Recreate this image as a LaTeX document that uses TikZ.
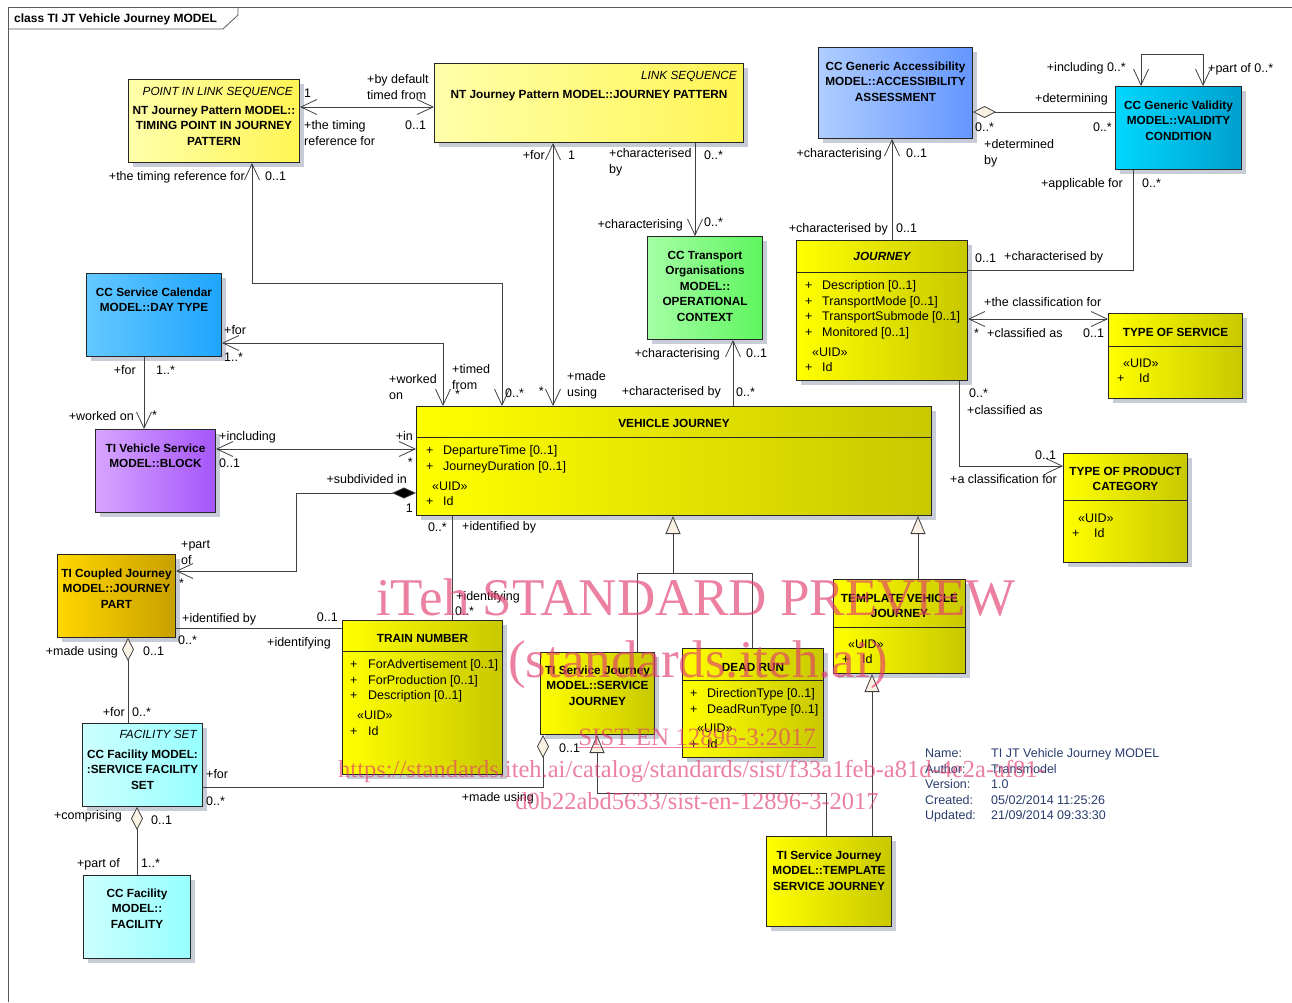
\documentclass[tikz,border=0pt]{standalone}
\usepackage{fontspec}
\setmainfont{Liberation Sans}
\newfontfamily\wmfont{Liberation Serif}
\usepackage{tikz}
\usetikzlibrary{arrows.meta, positioning, shadows}
\definecolor{paleyelL}{RGB}{255,255,170}
\definecolor{paleyelR}{RGB}{255,245,85}
\definecolor{yelL}{RGB}{255,255,0}
\definecolor{yelR}{RGB}{200,200,0}
\definecolor{ocgreenL}{RGB}{165,255,165}
\definecolor{ocgreenR}{RGB}{95,245,95}
\definecolor{accblueL}{RGB}{175,205,255}
\definecolor{accblueR}{RGB}{100,150,255}
\definecolor{vcyanL}{RGB}{0,215,255}
\definecolor{vcyanR}{RGB}{0,160,205}
\definecolor{daybueL}{RGB}{100,200,255}
\definecolor{daybueR}{RGB}{30,165,255}
\definecolor{purpL}{RGB}{215,165,255}
\definecolor{purpR}{RGB}{165,85,250}
\definecolor{goldL}{RGB}{255,215,0}
\definecolor{goldR}{RGB}{200,160,0}
\definecolor{icecyanL}{RGB}{205,255,255}
\definecolor{icecyanR}{RGB}{150,255,255}
\definecolor{shadowgray}{RGB}{200,204,214}
\definecolor{dmfill}{RGB}{250,240,228}
\definecolor{metablue}{RGB}{40,60,110}
\definecolor{wmpink}{RGB}{225,60,110}

\begin{document}
\begin{tikzpicture}[
    x=1pt, y=-1pt,
    every node/.style={font=\fontsize{12.5}{15.5}\selectfont},
    cls/.style={draw=black!85, line width=1pt, anchor=north west, inner sep=0pt,
        drop shadow={shadow xshift=4pt, shadow yshift=-4pt, fill=shadowgray, opacity=1}},
    cbox/.style={cls, left color=#1L, right color=#1R},
    cname/.style={anchor=north, align=center, inner sep=0pt, font=\fontsize{11.8}{15.5}\selectfont\bfseries},
    stereo/.style={anchor=east, inner sep=0pt, text height=8.5pt, text depth=0pt, font=\fontsize{11.8}{15.5}\selectfont\itshape},
    attrs/.style={anchor=north west, align=left, inner sep=0pt},
    lbl/.style={inner sep=0pt, text height=9pt, text depth=0pt},
    lbltwo/.style={anchor=north west, align=left, inner sep=0pt},
    sep/.style={draw=black!85, line width=1pt},
    conn/.style={draw=black!75, line width=0.8pt},
    navto/.style={conn, -{Straight Barb[length=16pt, width=15pt]}},
    navboth/.style={conn, {Straight Barb[length=16pt, width=15pt]}-{Straight Barb[length=16pt, width=15pt]}},
    aggr/.style={conn, {Diamond[length=23pt, width=12pt, fill=dmfill]}-},
    compo/.style={conn, {Diamond[length=24pt, width=11pt, fill=black]}-{Straight Barb[length=16pt, width=15pt]}},
    gen/.style={conn, -{Triangle[length=18pt, width=15pt, fill=dmfill]}},
    frame/.style={draw=black!65, line width=0.8pt},
    wm/.style={inner sep=0pt, text=wmpink, text opacity=0.65}
]
\useasboundingbox (0,0) rectangle (1292,1002);

% Frame
\draw[frame] (8,1002) -- (8,7) -- (1292,7);
\draw[frame] (8,29) -- (223,29) -- (238,15) -- (238,7);
\node[anchor=west, inner sep=0pt, text height=8.5pt, text depth=0pt, font=\fontsize{12}{15}\selectfont\bfseries] (title) at (14,18) {class TI JT Vehicle Journey MODEL};

% Journey pattern classes
\node[cbox=paleyel, minimum width=171pt, minimum height=83pt] (tp) at (128,79) {};
\node[stereo] (tp-st) at (293,91) {POINT IN LINK SEQUENCE};
\node[cname, below=26.7pt of tp.north] (tp-nm) {NT Journey Pattern MODEL::\\TIMING POINT IN JOURNEY\\PATTERN};

\node[cbox=paleyel, minimum width=309pt, minimum height=79pt] (jp) at (434,63) {};
\node[stereo] (jp-st) at (737,75) {LINK SEQUENCE};
\node[cname, below=26.7pt of jp.north] (jp-nm) {NT Journey Pattern MODEL::JOURNEY PATTERN};

% Accessibility and validity
\node[cbox=accblue, minimum width=154pt, minimum height=91pt] (aa) at (818,47) {};
\node[cname, below=14.7pt of aa.north] (aa-nm) {CC Generic Accessibility\\MODEL::ACCESSIBILITY\\ASSESSMENT};

\node[cbox=vcyan, minimum width=126pt, minimum height=83pt] (vc) at (1115,86) {};
\node[cname, below=14.7pt of vc.north] (vc-nm) {CC Generic Validity\\MODEL::VALIDITY\\CONDITION};

% Operational context
\node[cbox=ocgreen, minimum width=115pt, minimum height=103pt] (oc) at (647,236) {};
\node[cname, below=14.7pt of oc.north] (oc-nm) {CC Transport\\Organisations\\MODEL::\\OPERATIONAL\\CONTEXT};

% Journey
\node[cbox=yel, minimum width=171pt, minimum height=140pt] (j) at (796,240) {};
\node[cname, font=\fontsize{11.8}{15.5}\selectfont\bfseries\itshape, below=11.7pt of j.north] (j-nm) {JOURNEY};
\draw[sep] (j.west |- 0,272) -- (j.east |- 0,272);
\node[attrs] (j-at) at (805,280.4) {\makebox[17pt][l]{+}Description [0..1]\\ \makebox[17pt][l]{+}TransportMode [0..1]\\ \makebox[17pt][l]{+}TransportSubmode [0..1]\\ \makebox[17pt][l]{+}Monitored [0..1]\\[4.5pt] \hspace*{7pt}«UID»\\ \makebox[17pt][l]{+}Id};

% Classifications
\node[cbox=yel, minimum width=134pt, minimum height=85pt] (ts) at (1108,313) {};
\node[cname, below=14.7pt of ts.north] (ts-nm) {TYPE OF SERVICE};
\draw[sep] (ts.west |- 0,346) -- (ts.east |- 0,346);
\node[attrs] (ts-at) at (1117,358.5) {\hspace*{6pt}«UID»\\ \makebox[22pt][l]{+}Id};

\node[cbox=yel, minimum width=124pt, minimum height=109pt] (tpc) at (1063,453) {};
\node[cname, below=13.7pt of tpc.north] (tpc-nm) {TYPE OF PRODUCT\\CATEGORY};
\draw[sep] (tpc.west |- 0,500) -- (tpc.east |- 0,500);
\node[attrs] (tpc-at) at (1072,513.5) {\hspace*{6pt}«UID»\\ \makebox[22pt][l]{+}Id};

% Day type and block
\node[cbox=daybue, minimum width=135pt, minimum height=83pt] (dt) at (86,273) {};
\node[cname, below=14.7pt of dt.north] (dt-nm) {CC Service Calendar\\MODEL::DAY TYPE};

\node[cbox=purp, minimum width=120pt, minimum height=83pt] (bl) at (95,429) {};
\node[cname, below=14.7pt of bl.north] (bl-nm) {TI Vehicle Service\\MODEL::BLOCK};

% Vehicle journey
\node[cbox=yel, minimum width=515pt, minimum height=109pt] (vj) at (416,406) {};
\node[cname, below=12.7pt of vj.north] (vj-nm) {VEHICLE JOURNEY};
\draw[sep] (vj.west |- 0,437) -- (vj.east |- 0,437);
\node[attrs] (vj-at) at (426,445.4) {\makebox[17pt][l]{+}DepartureTime [0..1]\\ \makebox[17pt][l]{+}JourneyDuration [0..1]\\[4.5pt] \hspace*{6pt}«UID»\\ \makebox[17pt][l]{+}Id};

% Journey part, train number, facilities
\node[cbox=gold, minimum width=118pt, minimum height=83pt] (jpt) at (57,554) {};
\node[cname, below=14.4pt of jpt.north] (jpt-nm) {TI Coupled Journey\\MODEL::JOURNEY\\PART};

\node[cbox=yel, minimum width=160pt, minimum height=154pt] (tn) at (342,620) {};
\node[cname, below=13.7pt of tn.north] (tn-nm) {TRAIN NUMBER};
\draw[sep] (tn.west |- 0,651) -- (tn.east |- 0,651);
\node[attrs] (tn-at) at (350,659.4) {\makebox[18pt][l]{+}ForAdvertisement [0..1]\\ \makebox[18pt][l]{+}ForProduction [0..1]\\ \makebox[18pt][l]{+}Description [0..1]\\[4.5pt] \hspace*{7pt}«UID»\\ \makebox[18pt][l]{+}Id};

\node[cbox=icecyan, minimum width=120pt, minimum height=83pt] (fs) at (82,723) {};
\node[stereo] (fs-st) at (197,734) {FACILITY SET};
\node[cname, below=26.7pt of fs.north] (fs-nm) {CC Facility MODEL:\\:SERVICE FACILITY\\SET};

\node[cbox=icecyan, minimum width=107pt, minimum height=83pt] (fa) at (83,875) {};
\node[cname, below=13.7pt of fa.north] (fa-nm) {CC Facility\\MODEL::\\FACILITY};

% Specialisations
\node[cbox=yel, minimum width=114pt, minimum height=82pt] (sj) at (540,652) {};
\node[cname, below=13.7pt of sj.north] (sj-nm) {TI Service Journey\\MODEL::SERVICE\\JOURNEY};

\node[cbox=yel, minimum width=141pt, minimum height=109pt] (dr) at (682,648) {};
\node[cname, below=14.7pt of dr.north] (dr-nm) {DEAD RUN};
\draw[sep] (dr.west |- 0,680) -- (dr.east |- 0,680);
\node[attrs] (dr-at) at (690,688.4) {\makebox[17pt][l]{+}DirectionType [0..1]\\ \makebox[17pt][l]{+}DeadRunType [0..1]\\[4pt] \hspace*{7pt}«UID»\\ \makebox[17pt][l]{+}Id};

\node[cbox=yel, minimum width=132pt, minimum height=94pt] (tvj) at (833,579) {};
\node[cname, below=14.7pt of tvj.north] (tvj-nm) {TEMPLATE VEHICLE\\JOURNEY};
\draw[sep] (tvj.west |- 0,627) -- (tvj.east |- 0,627);
\node[attrs] (tvj-at) at (842,639.5) {\hspace*{6pt}«UID»\\ \makebox[20pt][l]{+}Id};

\node[cbox=yel, minimum width=125pt, minimum height=90pt] (tsj) at (766,836) {};
\node[cname, below=14.7pt of tsj.north] (tsj-nm) {TI Service Journey\\MODEL::TEMPLATE\\SERVICE JOURNEY};

% Associations
\draw[navboth] (tp.east |- 0,107) -- (jp.west |- 0,107);
\draw[navboth] (tp.south -| 252,0) |- (502,283) -- (vj.north -| 502,0);
\draw[navboth] (jp.south -| 553,0) -- (vj.north -| 553,0);
\draw[navto] (jp.south -| 695,0) -- (oc.north -| 695,0);
\draw[navto] (vj.north -| 733,0) -- (oc.south -| 733,0);
\draw[navto] (j.north -| 892,0) -- (aa.south -| 892,0);
\draw[aggr] (aa.east |- 0,112) -- (vc.west |- 0,112);
\draw[navboth] (vc.north -| 1141,0) |- (1203,54) -- (vc.north -| 1203,0);
\draw[conn] (vc.south -| 1133,0) |- (j.east |- 0,270);
\draw[navboth] (j.east |- 0,319) -- (ts.west |- 0,319);
\draw[navto] (j.south -| 959,0) |- (tpc.west |- 0,466);
\draw[navboth] (dt.east |- 0,343) -| (vj.north -| 443,0);
\draw[navto] (dt.south -| 144,0) -- (bl.north -| 144,0);
\draw[navboth] (bl.east |- 0,449) -- (vj.west |- 0,449);
\draw[compo] (vj.west |- 0,493) -| (296,571) -- (jpt.east |- 0,571);
\draw[conn] (jpt.east |- 0,628) -- (tn.west |- 0,628);
\draw[conn] (vj.south -| 452,0) -- (tn.north -| 452,0);
\draw[aggr] (jpt.south -| 128,0) -- (fs.north -| 128,0);
\draw[aggr] (fs.south -| 137,0) -- (fa.north -| 137,0);
\draw[aggr] (sj.south -| 543,0) |- (fs.east |- 0,787);

% Generalisations
\draw[gen] (sj.north -| 637,0) |- (673,573) -- (vj.south -| 673,0);
\draw[conn] (dr.north -| 752,0) |- (673,573);
\draw[gen] (tvj.north -| 918,0) -- (vj.south -| 918,0);
\draw[gen] (tsj.north -| 872,0) -- (tvj.south -| 872,0);
\draw[gen] (tsj.north -| 826,0) |- (597,793) -- (sj.south -| 597,0);

% Role names and multiplicities
\node[lbl, anchor=west] (tpjp-m1) at (304,93) {1};
\node[lbltwo] (tpjp-r1) at (367,74.4) {+by default\\timed from};
\node[lbltwo] (tpjp-r2) at (304,120.4) {+the timing\\reference for};
\node[lbl, anchor=west] (tpjp-m2) at (405,125) {0..1};

\node[lbl, anchor=east] (tpvj-r1) at (245,176) {+the timing reference for};
\node[lbl, anchor=west] (tpvj-m1) at (265,176) {0..1};
\node[lbltwo] (tpvj-r2) at (452,364.4) {+timed\\from};
\node[lbl, anchor=west] (tpvj-m2) at (455,394) {*};
\node[lbl, anchor=west] (tpvj-m3) at (505,393) {0..*};

\node[lbl, anchor=east] (jpvj-r1) at (545,155) {+for};
\node[lbl, anchor=west] (jpvj-m1) at (568,155) {1};
\node[lbl, anchor=east] (jpvj-m2) at (544,391) {*};
\node[lbltwo] (jpvj-r2) at (567,371.4) {+made\\using};

\node[lbltwo] (jpoc-r1) at (609,148.4) {+characterised\\by};
\node[lbl, anchor=west] (jpoc-m1) at (704,155) {0..*};
\node[lbl, anchor=east] (jpoc-r2) at (683,224) {+characterising};
\node[lbl, anchor=west] (jpoc-m2) at (704,222) {0..*};

\node[lbl, anchor=east] (ocvj-r1) at (720,353) {+characterising};
\node[lbl, anchor=west] (ocvj-m1) at (746,353) {0..1};
\node[lbl, anchor=east] (ocvj-r2) at (721,391) {+characterised by};
\node[lbl, anchor=west] (ocvj-m2) at (736,392) {0..*};

\node[lbl, anchor=east] (aaj-r1) at (882,153) {+characterising};
\node[lbl, anchor=west] (aaj-m1) at (906,153) {0..1};
\node[lbl, anchor=east] (aaj-r2) at (888,228) {+characterised by};
\node[lbl, anchor=west] (aaj-m2) at (896,228) {0..1};

\node[lbl, anchor=east] (aavc-r1) at (1108,98) {+determining};
\node[lbl, anchor=east] (aavc-m1) at (1112,127) {0..*};
\node[lbl, anchor=west] (aavc-m2) at (975,127) {0..*};
\node[lbltwo] (aavc-r2) at (984,139.4) {+determined\\by};

\node[lbl, anchor=east] (vcvc-r1) at (1126,67) {+including 0..*};
\node[lbl, anchor=west] (vcvc-r2) at (1208,68) {+part of 0..*};

\node[lbl, anchor=east] (vcj-r1) at (1123,183) {+applicable for};
\node[lbl, anchor=west] (vcj-m1) at (1142,183) {0..*};
\node[lbl, anchor=west] (vcj-m2) at (975,258) {0..1};
\node[lbl, anchor=west] (vcj-r2) at (1004,256) {+characterised by};

\node[lbl, anchor=west] (jts-r1) at (984,302) {+the classification for};
\node[lbl, anchor=west] (jts-m1) at (974,333) {*};
\node[lbl, anchor=west] (jts-r2) at (987,333) {+classified as};
\node[lbl, anchor=west] (jts-m2) at (1083,333) {0..1};

\node[lbl, anchor=west] (jtpc-m1) at (969,393) {0..*};
\node[lbl, anchor=west] (jtpc-r1) at (967,410) {+classified as};
\node[lbl, anchor=west] (jtpc-m2) at (1035,455) {0..1};
\node[lbl, anchor=west] (jtpc-r2) at (950,479) {+a classification for};

\node[lbl, anchor=west] (dtvj-r1) at (224,330) {+for};
\node[lbl, anchor=west] (dtvj-m1) at (224,357) {1..*};
\node[lbltwo] (dtvj-r2) at (389,374.4) {+worked\\on};

\node[lbl, anchor=east] (dtbl-r1) at (136,370) {+for};
\node[lbl, anchor=west] (dtbl-m1) at (156,370) {1..*};
\node[lbl, anchor=east] (dtbl-r2) at (134,416) {+worked on};
\node[lbl, anchor=west] (dtbl-m2) at (152,415) {*};

\node[lbl, anchor=west] (blvj-r1) at (219,436) {+including};
\node[lbl, anchor=west] (blvj-m1) at (219,463) {0..1};
\node[lbl, anchor=east] (blvj-r2) at (413,436) {+in};
\node[lbl, anchor=east] (blvj-m2) at (413,462) {*};

\node[lbl, anchor=east] (vjjpt-r1) at (407,479) {+subdivided in};
\node[lbl, anchor=east] (vjjpt-m1) at (413,508) {1};
\node[lbltwo] (vjjpt-r2) at (181,540.4) {+part\\of};
\node[lbl, anchor=west] (vjjpt-m2) at (179,583) {*};

\node[lbl, anchor=west] (jpttn-r1) at (182,618) {+identified by};
\node[lbl, anchor=east] (jpttn-m1) at (338,617) {0..1};
\node[lbl, anchor=west] (jpttn-m2) at (178,640) {0..*};
\node[lbl, anchor=east] (jpttn-r2) at (331,642) {+identifying};

\node[lbl, anchor=east] (vjtn-m1) at (447,527) {0..*};
\node[lbl, anchor=west] (vjtn-r1) at (462,526) {+identified by};
\node[lbl, anchor=west] (vjtn-r2) at (456,596) {+identifying};
\node[lbl, anchor=west] (vjtn-m2) at (455,611) {0..*};

\node[lbl, anchor=east] (jptfs-r1) at (118,651) {+made using};
\node[lbl, anchor=west] (jptfs-m1) at (143,651) {0..1};
\node[lbl, anchor=east] (jptfs-r2) at (125,712) {+for};
\node[lbl, anchor=west] (jptfs-m2) at (132,712) {0..*};

\node[lbl, anchor=west] (fssj-r1) at (206,774) {+for};
\node[lbl, anchor=west] (fssj-m1) at (206,801) {0..*};
\node[lbl, anchor=east] (fssj-r2) at (534,797) {+made using};
\node[lbl, anchor=west] (fssj-m2) at (559,748) {0..1};

\node[lbl, anchor=east] (fsfa-r1) at (122,815) {+comprising};
\node[lbl, anchor=west] (fsfa-m1) at (151,820) {0..1};
\node[lbl, anchor=east] (fsfa-r2) at (120,863) {+part of};
\node[lbl, anchor=west] (fsfa-m2) at (141,863) {1..*};

% Diagram properties
\node[attrs, text=metablue] (info) at (925,748.5) {\makebox[66pt][l]{Name:}TI JT Vehicle Journey MODEL\\ \makebox[66pt][l]{Author:}Transmodel\\ \makebox[66pt][l]{Version:}1.0\\ \makebox[66pt][l]{Created:}05/02/2014 11:25:26\\ \makebox[66pt][l]{Updated:}21/09/2014 09:33:30};

% Preview watermark
\node[wm, text height=35pt, text depth=0pt, font=\wmfont\fontsize{53}{60}\selectfont] (wm1) at (696,598) {iTeh STANDARD PREVIEW};
\node[wm, text height=35pt, text depth=0pt, font=\wmfont\fontsize{53}{60}\selectfont] (wm2) at (698,660) {(standards.iteh.ai)};
\node[wm, text height=16.5pt, text depth=0pt, font=\wmfont\fontsize{25}{30}\selectfont] (wm3) at (697,737) {\underline{SIST EN 12896-3:2017}};
\node[wm, text height=16.5pt, text depth=0pt, font=\wmfont\fontsize{24.5}{30}\selectfont] (wm4) at (692,769) {https://standards.iteh.ai/catalog/standards/sist/f33a1feb-a81d-4e2a-af81-};
\node[wm, text height=16.5pt, text depth=0pt, font=\wmfont\fontsize{24.5}{30}\selectfont] (wm5) at (697,801) {d0b22abd5633/sist-en-12896-3-2017};
\end{tikzpicture}
\end{document}
